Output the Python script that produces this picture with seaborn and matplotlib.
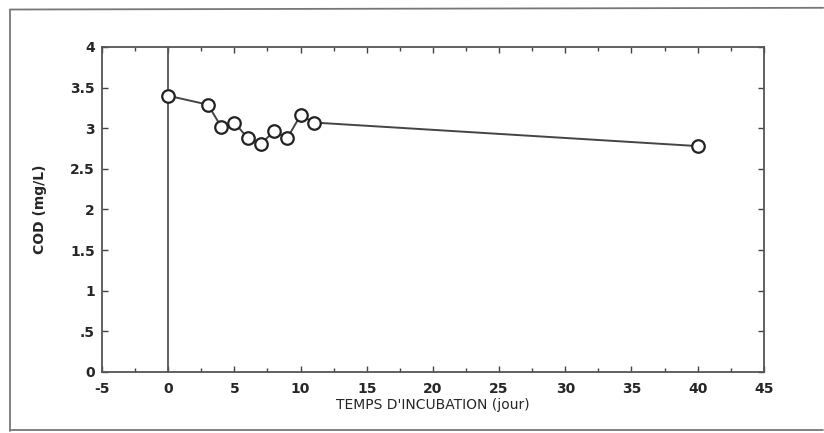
import matplotlib
matplotlib.use("Agg")
import matplotlib.pyplot as plt
import seaborn as sns
import pandas as pd
from matplotlib.lines import Line2D

days = [0, 3, 4, 5, 6, 7, 8, 9, 10, 11, 40]
cod = [3.40, 3.29, 3.02, 3.07, 2.88, 2.81, 2.96, 2.88, 3.16, 3.07, 2.78]
x_ticks = [-5, 0, 5, 10, 15, 20, 25, 30, 35, 40, 45]
y_ticks = [0, 0.5, 1, 1.5, 2, 2.5, 3, 3.5, 4]
y_tick_labels = ["0", ".5", "1", "1.5", "2", "2.5", "3", "3.5", "4"]

sns.set_theme(style="white")
plt.rcParams["font.family"] = ["DejaVu Sans"]

df = pd.DataFrame({"jour": days, "cod": cod})

fig = plt.figure(figsize=(8.24, 4.33), dpi=100)
ax = fig.add_axes([0.1238, 0.141, 0.8032, 0.7505])

ax.axvline(0, color="#555555", lw=1.3, zorder=1)
sns.lineplot(data=df, x="jour", y="cod", ax=ax, color="#444444", lw=1.4,
             marker="o", markersize=9, markerfacecolor="white",
             markeredgecolor="#222222", markeredgewidth=1.6, zorder=3)

ax.set_xlim(-5, 45)
ax.set_ylim(0, 4)
ax.set_xticks(x_ticks)
ax.set_xticklabels([str(t) for t in x_ticks], fontsize=10, fontweight="bold")
ax.set_xticks([t + 2.5 for t in x_ticks[:-1]], minor=True)
ax.set_yticks(y_ticks)
ax.set_yticklabels(y_tick_labels, fontsize=10, fontweight="bold")
ax.tick_params(axis="x", which="major", pad=7)
ax.tick_params(axis="y", which="major", pad=5)
ax.tick_params(axis="both", which="major", direction="in", length=4, width=1,
               color="#444444", top=True, right=True, bottom=True, left=True)
ax.tick_params(axis="both", which="minor", direction="in", length=3, width=1,
               color="#444444", top=True, bottom=True)
for s in ax.spines.values():
    s.set_color("#555555")
    s.set_linewidth(1.3)

ax.set_xlabel("TEMPS D'INCUBATION (jour)", fontsize=10, labelpad=2)
ax.set_ylabel("COD (mg/L)", fontsize=10, fontweight="bold", labelpad=17)

# outer frame
frame_kw = dict(color="#777777", lw=1.3, transform=fig.transFigure)
fig.add_artist(Line2D([0.012, 0.012], [0.005, 0.978], **frame_kw))
fig.add_artist(Line2D([0.012, 0.999], [0.978, 0.982], **frame_kw))
fig.add_artist(Line2D([0.012, 0.999], [0.006, 0.006], **frame_kw))

fig.savefig("out.png", dpi=100, facecolor="white")
